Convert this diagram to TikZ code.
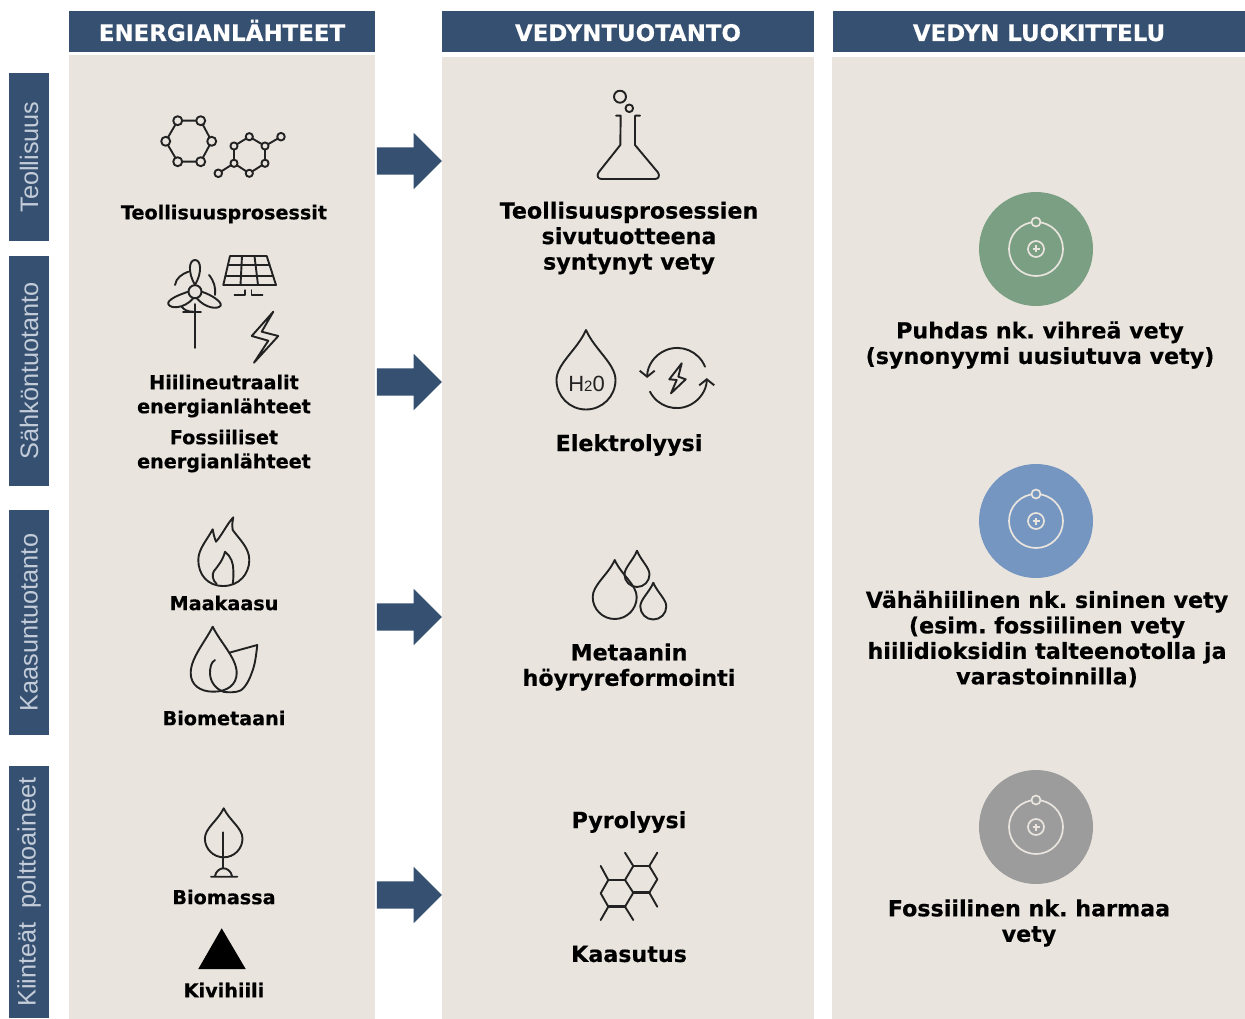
\documentclass[tikz,border=0pt]{standalone}
\usepackage{fontspec}
\usepackage{xcolor}
\usepackage{tikz}
\usetikzlibrary{shapes.arrows,arrows.meta}
\setmainfont{DejaVu Sans}[BoldFeatures={FakeBold=0.4}]
\newfontfamily\sidefont{Liberation Sans}
\frenchspacing

\definecolor{headblue}{HTML}{355071}
\definecolor{panelgrey}{HTML}{E9E4DE}
\definecolor{sidetext}{HTML}{C3CCD8}
\definecolor{atomgreen}{HTML}{7A9F82}
\definecolor{atomblue}{HTML}{7496C0}
\definecolor{atomgrey}{HTML}{9C9C9C}
\definecolor{iconline}{HTML}{222222}

\tikzset{
  header/.style={fill=headblue, text=white, inner sep=0pt, minimum height=41pt, text height=19pt, text depth=0pt, font=\fontsize{22.9}{26}\selectfont\bfseries},
  panel/.style={fill=panelgrey, inner sep=0pt},
  sidebox/.style={fill=headblue, text=sidetext, inner sep=0pt, minimum height=40pt, rotate=90, font=\fontsize{25.3}{27}\selectfont\sidefont},
  blockarrow/.style={single arrow, fill=headblue, inner sep=0pt, text height=27pt, text depth=0pt, minimum height=65pt, single arrow head extend=14.5pt, single arrow tip angle=90},
  leftlabel/.style={align=center, inner sep=0pt, font=\fontsize{19.2}{24}\selectfont\bfseries},
  biglabel/.style={align=center, inner sep=0pt, font=\fontsize{22.2}{25.5}\selectfont\bfseries},
  icon/.style={draw=iconline, line width=1.9pt, line join=round, line cap=round},
  atomdisc/.style={circle, inner sep=0pt, minimum size=114pt},
  atomring/.style={draw=panelgrey, line width=1.7pt}
}
% drop: centre x, centre y, radius, tip y
\newcommand{\dropicon}[4]{
  \draw[icon] (#1,#4) .. controls ({#1-0.3*#3},{#4+0.4*(#2-#4)}) and ({#1-#3},{#2-0.55*#3}) .. ({#1-#3},#2)
    arc[start angle=180, end angle=0, radius=#3]
    .. controls ({#1+#3},{#2-0.55*#3}) and ({#1+0.3*#3},{#4+0.4*(#2-#4)}) .. (#1,#4) -- cycle;
}

\begin{document}
\begin{tikzpicture}[x=1pt, y=-1pt, >=stealth]
  \useasboundingbox (0,0) rectangle (1245,1019);

  % columns
  \node[panel, minimum width=306pt, minimum height=964pt] (energypanel) at (222,537) {};
  \node[panel, minimum width=372pt, minimum height=962pt] (productionpanel) at (628,538) {};
  \node[panel, minimum width=413pt, minimum height=962pt] (classpanel) at (1038.5,538) {};
  \node[header, minimum width=306pt] (energy) at (222,31.5) {ENERGIANLÄHTEET};
  \node[header, minimum width=372pt] (production) at (628,31.5) {VEDYNTUOTANTO};
  \node[header, minimum width=412pt] (class) at (1039,31.5) {VEDYN LUOKITTELU};

  % side boxes
  \node[sidebox, minimum width=168pt] (industry) at (29,157) {Teollisuus};
  \node[sidebox, minimum width=230pt] (power) at (29,371) {Sähköntuotanto};
  \node[sidebox, minimum width=225pt] (gas) at (29,622.5) {Kaasuntuotanto};
  \node[sidebox, minimum width=252pt] (solid) at (29,892) {Kiinteät\ \ polttoaineet};

  % arrows
  \node[blockarrow] (arrowa) at (402.5,161) {};
  \node[blockarrow] (arrowb) at (402.5,382) {};
  \node[blockarrow] (arrowc) at (402.5,617) {};
  \node[blockarrow] (arrowd) at (402.5,895) {};

  % left labels
  \node[leftlabel] (processes) at (224,214) {Teollisuusprosessit};
  \node[leftlabel] (neutral) at (224,396) {Hiilineutraalit\\energianlähteet};
  \node[leftlabel] (fossil) at (224,451) {Fossiiliset\\energianlähteet};
  \node[leftlabel] (natgas) at (224,603) {Maakaasu};
  \node[leftlabel] (biomethane) at (224,718) {Biometaani};
  \node[leftlabel] (biomass) at (224,897) {Biomassa};
  \node[leftlabel] (coal) at (224,990) {Kivihiili};

  % middle labels
  \node[biglabel] (byproduct) at (629,238) {Teollisuusprosessien\\sivutuotteena\\syntynyt vety};
  \node[biglabel] (electrolysis) at (629,445) {Elektrolyysi};
  \node[biglabel] (reforming) at (629,667) {Metaanin\\höyryreformointi};
  \node[biglabel] (pyrolysis) at (629,822) {Pyrolyysi};
  \node[biglabel] (gasification) at (629,954) {Kaasutus};

  % right labels
  \node[biglabel] (greenh) at (1040,345) {Puhdas nk. vihreä vety\\(synonyymi uusiutuva vety)};
  \node[biglabel] (blueh) at (1047,639) {Vähähiilinen nk. sininen vety\\(esim. fossiilinen vety\\hiilidioksidin talteenotolla ja\\varastoinnilla)};
  \node[biglabel] (greyh) at (1029,923) {Fossiilinen nk. harmaa\\vety};

  % atoms
  \node[atomdisc, fill=atomgreen] (atoma) at (1036,249) {};
  \node[atomdisc, fill=atomblue] (atomb) at (1036,521) {};
  \node[atomdisc, fill=atomgrey] (atomc) at (1036,827) {};
  \foreach \at/\col in {atoma/atomgreen, atomb/atomblue, atomc/atomgrey} {
    \begin{scope}[shift={(\at.center)}]
      \draw[atomring] (0,0) circle[radius=27];
      \draw[atomring, fill=\col] (0,-27) circle[radius=4.5];
      \draw[atomring] (0,0) circle[radius=8];
      \draw[atomring] (-3.5,0) -- (3.5,0) (0,-3.5) -- (0,3.5);
    \end{scope}
  }

  % molecules
  \draw[icon] (177.7,120.7) -- (200.7,120.7) -- (211.7,141.3) -- (200.7,161.7) -- (177.7,161.7) -- (165.7,141.3) -- cycle;
  \foreach \p in {(177.7,120.7),(200.7,120.7),(211.7,141.3),(200.7,161.7),(177.7,161.7),(165.7,141.3)}
    \draw[icon, fill=panelgrey] \p circle[radius=4.5];
  \draw[icon] (249.3,136.7) -- (265,146) -- (265,163.3) -- (249.3,173.3) -- (234,163.3) -- (234,146) -- cycle;
  \draw[icon] (265,146) -- (281,136.7) (234,163.3) -- (218.3,173.3);
  \foreach \p in {(249.3,136.7),(265,146),(265,163.3),(249.3,173.3),(234,163.3),(234,146)}
    \draw[icon, fill=panelgrey] \p circle[radius=3.6];
  \foreach \p in {(281,136.7),(218.3,173.3)}
    \draw[icon, fill=panelgrey] \p circle[radius=3.8];

  % turbine
  \draw[icon] (195,304) -- (195,348) (183,311.7) -- (201,311.7);
  \draw[icon] (195,285) .. controls (187.5,272) and (189,260) .. (195,260) .. controls (201,260) and (202.5,272) .. (195,285);
  \draw[icon] (188.3,291.7) .. controls (178,295) and (167,300) .. (168.3,304) .. controls (170,309) and (184,309) .. (193.3,298.3);
  \draw[icon] (201.7,291.7) .. controls (212,295) and (222,302) .. (220.7,305.5) .. controls (218,310) and (205,308) .. (196.7,298.3);
  \draw[icon] (195,291.7) circle[radius=6.5];
  \draw[icon] (175,285) .. controls (176,278) and (182,274) .. (188.3,271.7);
  \draw[icon] (209,275) .. controls (214,281) and (216,288) .. (215,295);
  \draw[icon] (181.7,306.7) .. controls (184,310) and (188,311.7) .. (193,311.7);

  % solar panel
  \draw[icon] (230,256) -- (266.7,256) -- (276,285) -- (223.3,285) -- cycle;
  \draw[icon] (227.8,265) -- (269.5,265) (225.7,276) -- (273,276);
  \draw[icon] (242,256) -- (240.5,285) (254.5,256) -- (258,285);
  \draw[icon, line width=1.2pt] (234.3,295) -- (245,295) -- (245,290) (251.7,290) -- (251.7,295) -- (262.7,295);

  % bolt
  \draw[icon] (273.3,311.7) -- (251.7,336) -- (268.3,340.7) -- (254,362.7) -- (278.3,336) -- (261.7,331.7) -- cycle;

  % flask
  \draw[icon] (620,96.7) circle[radius=6];
  \draw[icon] (629.3,108.3) circle[radius=3.8];
  \draw[icon] (616,115.7) -- (620.7,115.7) -- (620.3,145) -- (598.5,172.5)
    .. controls (596.5,176) and (598,179) .. (601.7,179) -- (655,179)
    .. controls (658.5,179) and (660,176) .. (658,172.5) -- (635,145) -- (635,115.7) -- (640,115.7);

  % water drop
  \dropicon{586}{380}{29.5}{330}
  \node[inner sep=0pt, text=iconline, font=\fontsize{22}{24}\selectfont\sidefont] (water) at (586.5,384) {H{\fontsize{15}{16}\selectfont 2}0};

  % electricity cycle
  \draw[icon, -{Straight Barb[length=6pt,width=15pt]}] (705,366.7) arc[start angle=-22, end angle=-180, radius=30];
  \draw[icon, -{Straight Barb[length=6pt,width=15pt]}] (650,391.7) arc[start angle=153, end angle=0, radius=30];
  \draw[icon] (681.7,363.3) -- (669.3,379.3) -- (676.7,380) -- (671,393.3) -- (685.7,379.3) -- (678.3,376.7) -- cycle;

  % flames
  \draw[icon] (223.3,586) .. controls (207,586) and (198.3,574) .. (198.3,560)
    .. controls (198.3,549) and (207,540) .. (212.7,529.3)
    .. controls (213.5,534) and (214.5,538) .. (216,541.7)
    .. controls (222,535) and (227,524) .. (233.3,517.3)
    .. controls (232,524) and (232,527) .. (232.7,530)
    .. controls (240,540) and (249.3,548) .. (249.3,560)
    .. controls (249.3,574) and (239,586) .. (223.3,586) -- cycle;
  \draw[icon] (216.7,584) .. controls (212,580) and (212,574) .. (214,571)
    .. controls (218,566) and (223,560) .. (225,551.7)
    .. controls (231,556) and (233.5,564) .. (233.3,570)
    .. controls (233.3,576) and (233.5,580) .. (232.7,584);

  % biomethane
  \draw[icon] (212.7,626.7) .. controls (205,642) and (190.7,658) .. (190.7,673)
    .. controls (190.7,685) and (200,691.7) .. (213.3,691.7)
    .. controls (227,691.7) and (236.7,685) .. (236.7,673)
    .. controls (236.7,658) and (220,642) .. (212.7,626.7) -- cycle;
  \draw[icon] (215,660) .. controls (211,662) and (210,668) .. (210,673) .. controls (210,682) and (216,689) .. (223.3,691.7);
  \draw[icon] (229.3,652.7) -- (257.3,645) .. controls (256,656) and (255,665) .. (251.7,673)
    .. controls (248,684) and (242,691.7) .. (236.7,691.7) .. controls (232,692.5) and (228,692.5) .. (223.3,691.7);

  % methane drops
  \dropicon{614.7}{597}{22}{560}
  \dropicon{637}{574.5}{12.5}{550.7}
  \dropicon{653.3}{606.5}{13}{582.7}

  % carbon rings
  \draw[icon, line width=2.8pt] (608.3,880) -- (625,880) (633.3,866) -- (649.3,866) (633.3,892.7) -- (649.3,892.7) (608.3,906.7) -- (625,906.7);
  \draw[icon] (608.3,880) -- (600.7,893.3) -- (608.3,906.7) (625,906.7) -- (633.3,892.7) -- (625,880) -- (633.3,866)
    (649.3,866) -- (657.3,879.3) -- (649.3,892.7);
  \draw[icon] (608.3,880) -- (600.7,866) (608.3,906.7) -- (600.7,920) (625,906.7) -- (633.3,920)
    (633.3,866) -- (625,852.7) (649.3,866) -- (657.3,852.7) (649.3,892.7) -- (657.3,906.7);

  % biomass leaf
  \dropicon{223.7}{838.5}{18.8}{808.3}
  \draw[icon] (223.3,832.3) -- (223.3,868.3);
  \draw[icon] (211,876.7) -- (237.3,876.7) (215,876) .. controls (216,871) and (220,868.3) .. (223.3,868.3) .. controls (227,868.3) and (231,871) .. (232,876);

  % coal
  \fill[black] (221.7,928.3) -- (245.7,969) -- (198.3,969) -- cycle;
\end{tikzpicture}
\end{document}
